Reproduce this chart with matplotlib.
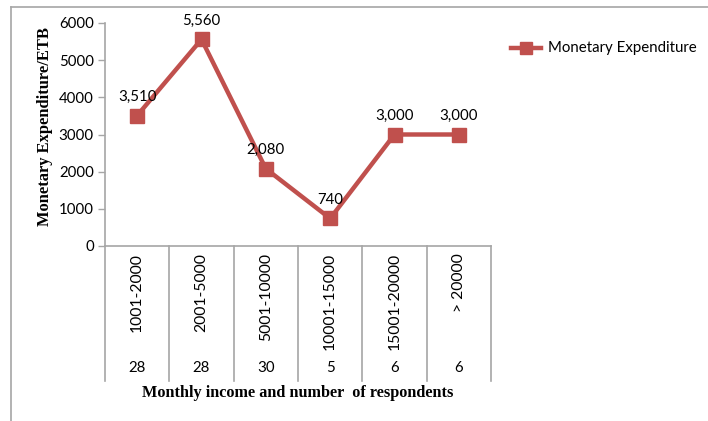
import matplotlib
matplotlib.use("Agg")
import matplotlib.pyplot as plt
from matplotlib.lines import Line2D

categories = ["1001-2000", "2001-5000", "5001-10000", "10001-15000", "15001-20000", "> 20000"]
respondents = [28, 28, 30, 5, 6, 6]
expenditure = [3510, 5560, 2080, 740, 3000, 3000]
yticks = [0, 1000, 2000, 3000, 4000, 5000, 6000]
series_name = "Monetary Expenditure"

W, H = 708, 421
fig = plt.figure(figsize=(W / 100, H / 100), dpi=100)
fig.patch.set_facecolor("white")

# outer border (top and left only visible)
fig.add_artist(Line2D([11 / W, 11 / W], [0, 1 - 7 / H], color="#a6a6a6", lw=1.2))
fig.add_artist(Line2D([11 / W, 1], [1 - 7 / H, 1 - 7 / H], color="#a6a6a6", lw=1.2))

left, right = 105 / W, 491 / W
bottom, top = 1 - 246 / H, 1 - 23 / H
ax = fig.add_axes([left, bottom, right - left, top - bottom])

red = "#C0504D"
x = list(range(len(categories)))
ax.plot(x, expenditure, color=red, lw=3.2, marker="s", ms=9.5, mfc=red, mec=red,
        solid_joinstyle="miter")
ax.set_xlim(-0.5, len(categories) - 0.5)
ax.set_ylim(0, 6000)

font = "Lato"
fs = 10.8
for xi, v in zip(x, expenditure):
    ax.annotate(f"{v:,}", (xi, v), xytext=(0, 8.5), textcoords="offset points",
                ha="center", va="bottom", fontsize=fs, family=font, color="black")

ax.set_yticks(yticks)
ax.set_yticklabels([str(t) for t in yticks], fontsize=fs, family=font)
ax.tick_params(axis="y", length=5, width=1, color="#a6a6a6", pad=3)
ax.set_xticks([])
for s in ["top", "right"]:
    ax.spines[s].set_visible(False)
for s in ["left", "bottom"]:
    ax.spines[s].set_color("#a6a6a6")
    ax.spines[s].set_linewidth(1.2)

trans = ax.get_xaxis_transform()
ph = 223.0  # pixels per axes height
sep_bottom = -(381 - 246) / ph
for i in range(len(categories) + 1):
    ax.add_line(Line2D([i - 0.5, i - 0.5], [0, sep_bottom], transform=trans,
                       color="#a6a6a6", lw=1.2, clip_on=False))

for xi, c, n in zip(x, categories, respondents):
    ax.text(xi, -(253 - 246) / ph, c, transform=trans, rotation=90, ha="center",
            va="top", fontsize=11.3, family=font)
    ax.text(xi, -(368 - 246) / ph, str(n), transform=trans, ha="center",
            va="center", fontsize=fs, family=font)

ax.text(2.5, -(393 - 246) / ph, "Monthly income and number  of respondents",
        transform=trans, ha="center", va="center", fontsize=11.7,
        family="Liberation Serif", fontweight="bold")

fig.text(45 / W, 1 - 127 / H, "Monetary Expenditure/ETB", rotation=90,
         ha="center", va="center", fontsize=11.9, family="Liberation Serif",
         fontweight="bold")

# legend
ly = 1 - 48 / H
fig.add_artist(Line2D([511 / W, 541 / W], [ly, ly], color=red, lw=3.2))
fig.add_artist(Line2D([526 / W], [ly], marker="s", ms=9, color=red, lw=0))
fig.text(548 / W, ly, series_name, ha="left", va="center", fontsize=fs, family=font)

fig.savefig("out.png", dpi=100, facecolor="white")
